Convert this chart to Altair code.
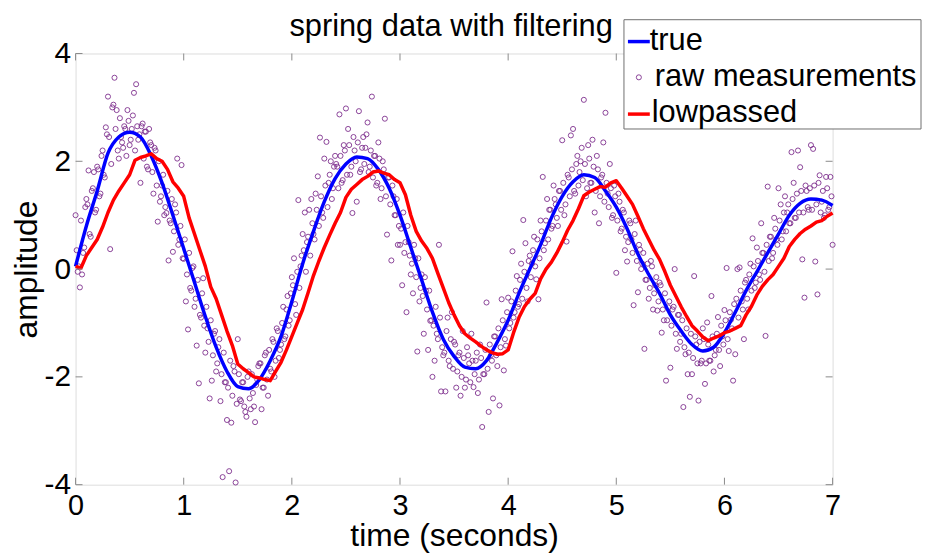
import altair as alt
import pandas as pd

# ---------------- data ----------------
true_values = [
    0.05, 0.80, 1.45, 2.15, 2.45, 2.54, 2.45, 2.10, 1.60, 1.00,
    0.38, -0.25, -0.88, -1.45, -1.90, -2.18, -2.22, -2.05, -1.70, -1.25,
    -0.60, 0.10, 0.70, 1.25, 1.68, 1.95, 2.08, 2.05, 1.85, 1.50,
    1.00, 0.40, -0.20, -0.80, -1.30, -1.62, -1.82, -1.85, -1.70, -1.35,
    -0.95, -0.45, 0.00, 0.45, 0.95, 1.35, 1.62, 1.75, 1.70, 1.45,
    1.15, 0.75, 0.28, -0.10, -0.45, -0.85, -1.15, -1.40, -1.52, -1.45,
    -1.18, -0.80, -0.40, -0.05, 0.30, 0.65, 1.00, 1.22, 1.30, 1.28,
    1.18,
]
true_times = [i / 10 for i in range(len(true_values))]

lowpassed_values = [
    0.05, 0.02, 0.25, 0.40, 0.55, 0.78, 1.05, 1.28, 1.45, 1.60,
    1.75, 2.02, 2.07, 2.10, 2.14, 2.05, 2.00, 1.85, 1.62, 1.50,
    1.35, 0.95, 0.65, 0.35, 0.05, -0.33, -0.55, -0.85, -1.15, -1.42,
    -1.76, -1.85, -1.92, -2.00, -2.02, -2.05, -2.07, -1.90, -1.73, -1.50,
    -1.25, -1.00, -0.75, -0.44, -0.12, 0.15, 0.40, 0.63, 0.85, 1.05,
    1.33, 1.48, 1.57, 1.66, 1.72, 1.80, 1.82, 1.78, 1.75, 1.66,
    1.60, 1.38, 1.00, 0.70, 0.52, 0.38, 0.20, -0.08, -0.35, -0.62,
    -0.85, -1.05, -1.20, -1.28, -1.35, -1.43, -1.50, -1.55, -1.58, -1.57,
    -1.50, -1.18, -0.90, -0.70, -0.56, -0.45, -0.18, 0.00, 0.13, 0.30,
    0.50, 0.72, 0.90, 1.12, 1.36, 1.43, 1.48, 1.53, 1.52, 1.60,
    1.64, 1.50, 1.35, 1.20, 0.98, 0.75, 0.55, 0.35, 0.18, -0.05,
    -0.30, -0.50, -0.70, -0.88, -1.05, -1.15, -1.26, -1.33, -1.28, -1.24,
    -1.18, -1.15, -1.10, -1.05, -0.85, -0.69, -0.48, -0.32, -0.20, -0.10,
    0.05, 0.20, 0.42, 0.55, 0.66, 0.74, 0.80, 0.87, 0.90, 0.98,
    1.04,
]
lowpassed_times = [i / 20 for i in range(len(lowpassed_values))]

# raw measurements, samples at 0.00, 0.02, 0.04, ...
raw_values_even = [
    # 0.00 - 0.98
    1.00, -0.05, -0.34, -0.10, 0.40, 1.30, 1.83, 0.60, 1.50, 1.05,
    1.90, 1.35, 2.10, 1.75, 2.63, 3.20, 0.37, 3.00, 3.55, 2.95,
    2.05, 2.45, 2.25, 2.60, 2.95, 2.30, 2.60, 3.27, 3.43, 2.40,
    1.60, 2.70, 2.55, 1.90, 2.60, 2.30, 1.40, 2.20, 0.88, 1.25,
    1.55, 1.00, 1.04, 0.16, 0.85, 0.32, 1.20, 2.05, 0.55, 1.93,
    # 1.00 - 1.98
    0.19, -0.60, -1.12, -0.35, 0.02, -0.70, -1.42, -2.12, -0.90, -0.17,
    -1.55, -1.10, -2.40, -2.07, -1.20, -1.90, -1.45, -2.45, -3.86, -2.10,
    -2.80, -3.75, -2.85, -1.80, -3.96, -1.30, -2.42, -2.10, -2.55, -2.74,
    -1.90, -2.60, -2.30, -2.84, -2.05, -1.75, -2.60, -2.20, -1.55, -2.35,
    -1.85, -1.30, -2.00, -1.10, -1.65, -1.40, -0.70, -1.25, -0.50, -0.95,
    # 2.00 - 2.98
    -0.15, 0.20, -0.85, 1.28, 0.05, 0.65, 1.05, 0.50, 1.10, 1.30,
    0.65, 1.40, 1.72, 2.44, 1.05, 2.05, 2.36, 1.60, 2.00, 1.50,
    2.10, 1.90, 2.87, 1.60, 2.30, 2.98, 2.60, 1.75, 1.04, 2.20,
    1.25, 2.93, 1.85, 2.45, 2.25, 2.72, 1.90, 3.20, 2.10, 1.55,
    2.35, 1.30, 2.00, 2.79, 0.64, 1.70, 0.16, 1.35, 1.00, 0.45,
    # 3.00 - 3.98
    0.45, -0.30, 0.30, -0.80, 0.50, -0.10, -0.45, 0.20, -1.53, -0.60,
    -0.10, -1.20, -0.40, -1.50, -0.96, -2.00, -1.70, -1.20, 0.45, -2.27,
    -1.60, -2.27, -0.90, -1.80, -0.80, -1.35, -2.20, -1.60, -2.35, -1.15,
    -2.20, -1.45, -1.75, -1.20, -2.19, -1.70, -2.30, -1.40, -2.93, -1.95,
    -0.62, -2.65, -1.60, -2.40, -1.25, -1.80, -2.53, -0.56, -1.88, -1.42,
    # 4.00 - 4.98
    -0.53, -1.00, 0.33, -0.80, -0.13, -0.65, 0.10, 0.91, 0.48, -0.60,
    0.25, 0.10, 0.60, -0.19, -0.56, 0.90, 1.71, 0.48, 1.30, 1.10,
    0.75, 1.55, 1.20, 0.80, 1.45, 2.39, 1.00, 0.51, 1.70, 2.48,
    2.60, 1.40, 2.10, 1.80, 2.25, 3.14, 1.35, 2.30, 1.60, 2.40,
    1.05, 2.10, 0.85, 1.70, 2.35, 2.90, 1.40, 1.95, 0.95, 1.55,
    # 5.00 - 5.98
    -0.07, 1.40, 0.70, 1.10, 0.35, 0.14, 0.90, 0.55, -0.67, 0.90,
    -0.43, 0.36, 0.10, -1.48, -0.20, -0.55, 0.15, -0.75, -0.30, -0.77,
    -0.25, -1.18, -0.95, -2.07, -0.71, -1.83, -0.75, 0.00, -1.48, -0.85,
    -1.20, -2.56, -1.58, -1.95, -2.37, -1.95, -0.13, -1.40, -2.44, -1.75,
    -1.10, -2.13, -0.99, -1.70, -0.50, -1.90, -1.50, -0.89, -1.80, -1.25,
    # 6.00 - 7.00
    -0.76, 0.02, -1.52, -0.94, -2.07, -1.58, 0.00, 0.03, -0.60, -1.30,
    -0.20, -0.75, 0.10, 0.57, -0.35, 0.40, -0.10, 0.85, 0.30, -1.24,
    1.53, 0.60, 0.20, 0.95, 0.55, 1.50, 1.20, 0.70, 1.35, 1.05,
    0.85, 2.17, 1.60, 0.95, 2.20, 1.89, 0.18, -0.53, 1.45, 1.10,
    2.30, 2.23, 0.14, -0.47, 1.74, 1.25, 0.95, 1.71, 1.10, 1.71,
    0.45,
]
raw_times_even = [i / 50 for i in range(len(raw_values_even))]

# raw measurements, samples at 0.01, 0.03, 0.05, ...
raw_values_odd = [
    0.35, 0.05, 0.90, 0.30, 1.15, 1.20, 0.65, 1.45, 1.80, 1.10,
    1.85, 1.40, 2.20, 1.70, 2.50, 2.45, 1.95, 3.05, 2.60, 2.20,
    2.80, 2.35, 2.65, 2.10, 2.75, 2.40, 2.85, 2.20, 2.65, 2.50,
    2.65, 2.05, 2.55, 1.85, 2.35, 1.80, 2.25, 1.55, 2.00, 1.35,
    1.75, 1.15, 1.45, 0.90, 1.30, 0.70, 1.05, 0.45, 0.80, 0.20,
    0.55, -0.10, 0.30, -0.40, 0.05, -0.55, -0.20, -0.85, -0.45, -1.05,
    -0.70, -1.35, -0.95, -1.60, -1.15, -1.75, -1.30, -1.95, -1.55, -2.10,
    -2.20, -1.70, -2.35, -1.90, -2.50, -1.95, -2.45, -2.10, -2.65, -2.00,
    -2.40, -1.95, -2.55, -2.15, -1.80, -1.75, -2.20, -1.60, -2.05, -1.50,
    -1.90, -1.35, -1.70, -1.15, -1.50, -1.00, -1.30, -0.75, -1.05, -0.45,
    -0.30, -0.65, -0.05, -0.35, 0.25, 0.35, -0.05, 0.60, 0.25, 0.85,
    0.55, 1.10, 0.80, 1.35, 0.95, 1.55, 1.15, 1.75, 1.30, 1.90,
    1.95, 1.50, 2.10, 1.65, 2.20, 1.75, 2.30, 1.90, 2.45, 2.00,
    2.35, 1.80, 2.25, 1.95, 2.50, 1.80, 2.20, 1.70, 2.10, 1.60,
    2.05, 1.50, 1.85, 1.35, 1.70, 1.20, 1.55, 1.00, 1.30, 0.80,
    0.75, 1.05, 0.50, 0.80, 0.25, 0.10, 0.45, -0.15, 0.20, -0.35,
    -0.50, -0.15, -0.75, -0.40, -0.95, -1.05, -0.70, -1.30, -0.90, -1.45,
    -1.55, -1.15, -1.70, -1.30, -1.85, -1.40, -1.90, -1.55, -2.00, -1.65,
    -2.05, -1.60, -2.10, -1.70, -1.95, -1.55, -2.05, -1.65, -1.95, -1.50,
    -1.85, -1.40, -1.70, -1.25, -1.60, -1.10, -1.45, -0.95, -1.30, -0.80,
    -1.10, -0.60, -0.90, -0.40, -0.70, -0.20, -0.55, -0.05, -0.35, 0.15,
    -0.15, 0.35, 0.05, 0.55, 0.20, 0.70, 0.35, 0.90, 0.55, 1.10,
    0.80, 1.30, 0.95, 1.45, 1.10, 1.60, 1.20, 1.75, 1.35, 1.85,
    1.45, 1.95, 1.55, 2.00, 1.65, 1.95, 1.50, 2.05, 1.60, 1.90,
    1.45, 1.85, 1.35, 1.75, 1.25, 1.60, 1.15, 1.50, 1.00, 1.35,
    0.90, 1.25, 0.75, 1.05, 0.60, 0.50, 0.85, 0.30, 0.65, 0.15,
    0.45, 0.00, 0.30, -0.20, 0.10, -0.35, 0.05, -0.45, -0.15, -0.60,
    -0.30, -0.75, -0.45, -0.95, -0.60, -1.05, -0.70, -1.20, -0.85, -1.35,
    -0.95, -1.45, -1.10, -1.55, -1.20, -1.65, -1.25, -1.75, -1.35, -1.70,
    -1.30, -1.75, -1.40, -1.70, -1.25, -1.60, -1.20, -1.50, -1.05, -1.40,
    -0.95, -1.30, -0.80, -1.10, -0.65, -0.55, -0.90, -0.40, -0.75, -0.25,
    -0.55, -0.10, -0.40, 0.05, -0.25, 0.15, -0.20, 0.30, -0.05, 0.45,
    0.15, 0.60, 0.30, 0.75, 0.45, 0.90, 0.55, 1.05, 0.70, 1.20,
    0.85, 1.30, 0.95, 1.40, 1.05, 1.45, 1.05, 1.55, 1.15, 1.50,
    1.10, 1.55, 1.20, 1.60, 1.05, 1.45, 1.00, 1.50, 1.15, 1.35,
]
raw_times_odd = [0.01 + i / 50 for i in range(len(raw_values_odd))]

x_ticks = [0, 1, 2, 3, 4, 5, 6, 7]
y_ticks = [-4, -2, 0, 2, 4]
legend_labels = ["true", "raw measurements", "lowpassed"]
title_text = "spring data with filtering"
x_title = "time (seconds)"
y_title = "amplitude"

# ---------------- styling ----------------
W, H = 762, 434
FONT = "Liberation Sans"
GREY = "#8a8a8a"
BLUE = "#0000ff"
RED = "#ff0000"
PURPLE = "#7E2F8E"

xs = alt.Scale(domain=[0, 7], nice=False, zero=False)
ys = alt.Scale(domain=[-4, 4], nice=False, zero=False)

raw_df = pd.DataFrame({
    "t": raw_times_even + raw_times_odd,
    "v": raw_values_even + raw_values_odd,
})
true_df = pd.DataFrame({"t": true_times, "v": true_values})
low_df = pd.DataFrame({"t": lowpassed_times, "v": lowpassed_values})
xt_df = pd.DataFrame({"t": x_ticks})
yt_df = pd.DataFrame({"v": y_ticks})
one = pd.DataFrame({"a": [0]})

hyphen_expr = "datum.value < 0 ? '-' + abs(datum.value) : '' + datum.value"

x_axis = alt.Axis(values=x_ticks, ticks=False, domain=False, grid=False,
                  labelFontSize=29, labelFont=FONT, labelColor="black",
                  labelPadding=7, title=x_title, titleFontSize=32,
                  titleFont=FONT, titleFontWeight="normal", titleColor="black",
                  titlePadding=0, labelFlush=False)
y_axis = alt.Axis(values=y_ticks, ticks=False, domain=False, grid=False,
                  labelFontSize=30, labelFont=FONT, labelColor="black",
                  labelPadding=5, title=y_title, titleFontSize=32,
                  titleFont=FONT, titleFontWeight="normal", titleColor="black",
                  titlePadding=1, labelFlush=False, labelExpr=hyphen_expr)

X = alt.X("t:Q", scale=xs, axis=x_axis)
Y = alt.Y("v:Q", scale=ys, axis=y_axis)

raw = alt.Chart(raw_df).mark_point(
    shape="circle", filled=False, size=26, strokeWidth=0.9,
    color=PURPLE, opacity=1
).encode(x=X, y=Y)

true_line = alt.Chart(true_df).mark_line(
    color=BLUE, strokeWidth=3.5, interpolate="monotone", strokeJoin="round"
).encode(x=X, y=Y)

low_line = alt.Chart(low_df).mark_line(
    color=RED, strokeWidth=3.5, strokeJoin="round"
).encode(x=X, y=Y)

# inward ticks (MATLAB style) on all four sides
tick_len = 7
bottom_ticks = alt.Chart(xt_df).mark_rule(color=GREY, strokeWidth=1).encode(
    x=X, y=alt.value(H), y2=alt.value(H - tick_len))
top_ticks = alt.Chart(xt_df).mark_rule(color=GREY, strokeWidth=1).encode(
    x=X, y=alt.value(0), y2=alt.value(tick_len))
left_ticks = alt.Chart(yt_df).mark_rule(color=GREY, strokeWidth=1).encode(
    y=Y, x=alt.value(0), x2=alt.value(tick_len))
right_ticks = alt.Chart(yt_df).mark_rule(color=GREY, strokeWidth=1).encode(
    y=Y, x=alt.value(W), x2=alt.value(W - tick_len))

# title
title = alt.Chart(one).mark_text(
    align="center", baseline="alphabetic", fontSize=31, font=FONT, color="black"
).encode(x=alt.value(378), y=alt.value(-18), text=alt.value(title_text))

# legend box
lg_box = alt.Chart(one).mark_rect(
    fill="white", stroke="#6f6f6f", strokeWidth=1
).encode(x=alt.value(552), x2=alt.value(851), y=alt.value(-34), y2=alt.value(76))
lg_true = alt.Chart(one).mark_rule(color=BLUE, strokeWidth=3.5).encode(
    x=alt.value(556), x2=alt.value(578), y=alt.value(-12))
lg_raw = alt.Chart(one).mark_point(
    shape="circle", filled=False, size=26, strokeWidth=0.9, color=PURPLE, opacity=1
).encode(x=alt.value(567), y=alt.value(24))
lg_low = alt.Chart(one).mark_rule(color=RED, strokeWidth=3.5).encode(
    x=alt.value(556), x2=alt.value(578), y=alt.value(61))
lg_text_df = pd.DataFrame({
    "label": legend_labels,
    "px": [578, 583, 580],
    "py": [-4, 33, 69],
})
lg_text = alt.Chart(lg_text_df).mark_text(
    align="left", baseline="alphabetic", fontSize=31, font=FONT, color="black"
).encode(
    x=alt.X("px:Q", scale=None, axis=None),
    y=alt.Y("py:Q", scale=None, axis=None),
    text="label:N",
)

chart = alt.layer(
    raw, true_line, low_line,
    bottom_ticks, top_ticks, left_ticks, right_ticks,
    title, lg_box, lg_true, lg_raw, lg_low, lg_text,
).properties(
    width=W, height=H,
    autosize=alt.AutoSizeParams(type="none"),
    padding={"left": 68, "top": 44, "right": 90, "bottom": 68},
    background="white",
).configure_view(
    stroke=GREY, strokeWidth=1
).configure(font=FONT)

chart.save("out.html", embed_options={"renderer": "svg", "actions": False})
